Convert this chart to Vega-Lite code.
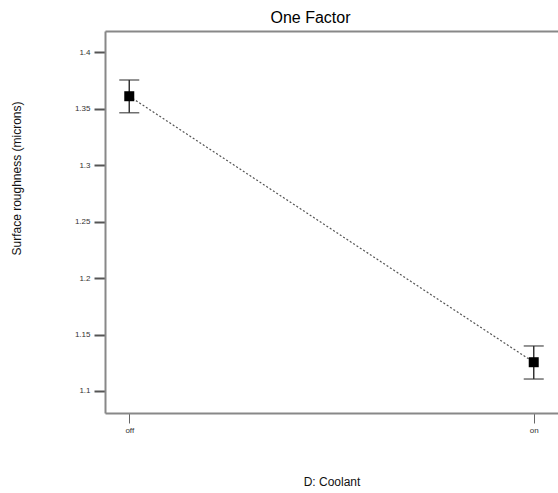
{
  "$schema": "https://vega.github.io/schema/vega-lite/v6.json",
  "autosize": "none",
  "width": 453,
  "height": 382,
  "padding": {"left": 105, "top": 31, "right": 0, "bottom": 80},
  "background": "white",
  "config": {
    "font": "Liberation Sans",
    "view": {"stroke": null}
  },
  "title": {
    "text": "One Factor",
    "fontSize": 16,
    "fontWeight": "normal",
    "font": "Liberation Sans",
    "color": "#000000",
    "dx": -21,
    "offset": 5
  },
  "data": {
    "values": [
      {"coolant": "off", "mean": 1.3612, "lo": 1.3466, "hi": 1.3756},
      {"coolant": "on", "mean": 1.1255, "lo": 1.1106, "hi": 1.1399}
    ]
  },
  "resolve": {"axis": {"x": "independent"}},
  "layer": [
    {
      "mark": {"type": "line", "color": "#555555", "strokeDash": [2, 2], "strokeWidth": 1.2},
      "encoding": {
        "x": {
          "field": "coolant",
          "type": "nominal",
          "sort": ["off", "on"],
          "scale": {"type": "point", "padding": 0.06},
          "axis": {
            "title": "D: Coolant",
            "titleFontSize": 12,
            "titleFontWeight": "normal",
            "titleColor": "#111111",
            "titlePadding": 42,
            "labelAngle": 0,
            "labelFontSize": 8,
            "labelColor": "#333333",
            "labelPadding": 3,
            "tickSize": 10,
            "tickColor": "#666666",
            "domainColor": "#888888",
            "domainWidth": 2,
            "grid": false
          }
        },
        "y": {
          "field": "mean",
          "type": "quantitative",
          "scale": {"domain": [1.0805, 1.419], "nice": false, "zero": false},
          "axis": {
            "title": "Surface roughness (microns)",
            "titleFontSize": 12,
            "titleFontWeight": "normal",
            "titleColor": "#111111",
            "titleX": -89,
            "titleY": 147,
            "titleBaseline": "middle",
            "values": [1.1, 1.15, 1.2, 1.25, 1.3, 1.35, 1.4],
            "format": ".3~g",
            "labelFontSize": 8,
            "labelColor": "#333333",
            "labelPadding": 4,
            "tickSize": 11,
            "tickWidth": 2,
            "tickColor": "#555555",
            "domainColor": "#888888",
            "domainWidth": 2,
            "grid": false
          }
        }
      }
    },
    {
      "mark": {"type": "rule", "color": "#333333", "strokeWidth": 1.5},
      "encoding": {
        "x": {
          "field": "coolant",
          "type": "nominal",
          "sort": ["off", "on"],
          "axis": {
            "orient": "top",
            "title": null,
            "labels": false,
            "ticks": false,
            "domainColor": "#888888",
            "domainWidth": 2,
            "grid": false
          }
        },
        "y": {"field": "lo", "type": "quantitative"},
        "y2": {"field": "hi"}
      }
    },
    {
      "mark": {"type": "tick", "color": "#333333", "size": 20, "thickness": 1.5},
      "encoding": {
        "x": {"field": "coolant", "type": "nominal", "sort": ["off", "on"], "axis": null},
        "y": {"field": "lo", "type": "quantitative"}
      }
    },
    {
      "mark": {"type": "tick", "color": "#333333", "size": 20, "thickness": 1.5},
      "encoding": {
        "x": {"field": "coolant", "type": "nominal", "sort": ["off", "on"], "axis": null},
        "y": {"field": "hi", "type": "quantitative"}
      }
    },
    {
      "mark": {"type": "square", "color": "#000000", "size": 100, "opacity": 1, "filled": true},
      "encoding": {
        "x": {"field": "coolant", "type": "nominal", "sort": ["off", "on"], "axis": null},
        "y": {"field": "mean", "type": "quantitative"}
      }
    }
  ]
}
